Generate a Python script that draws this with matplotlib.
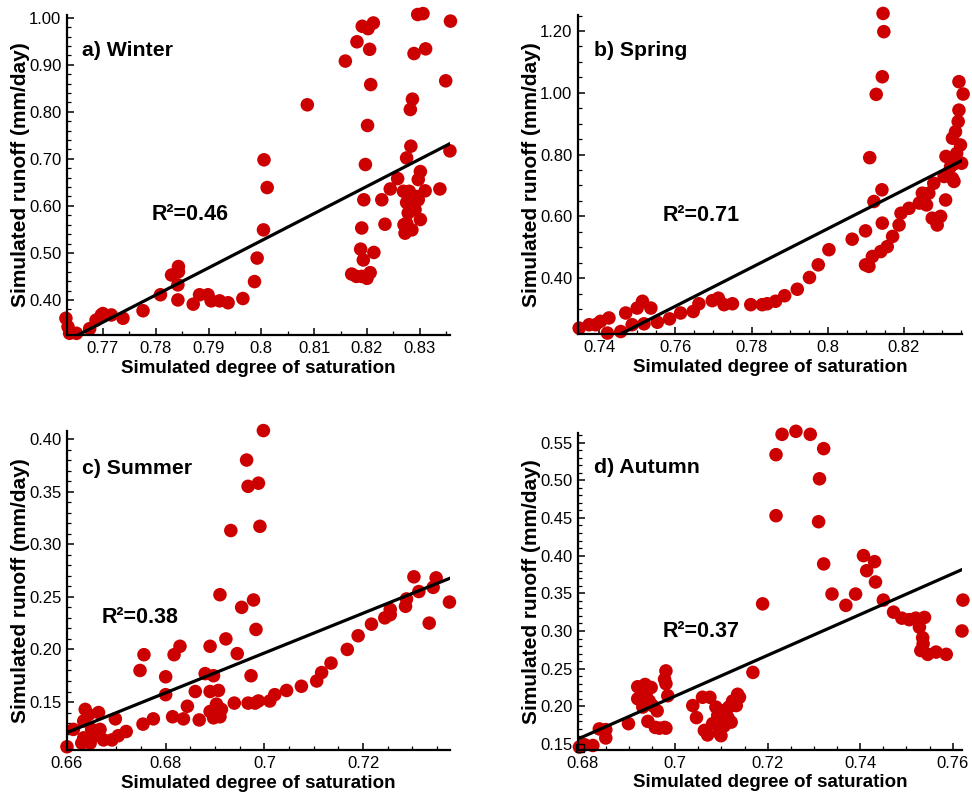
import numpy as np
import matplotlib
matplotlib.use('Agg')
import matplotlib.pyplot as plt
from matplotlib.ticker import MultipleLocator, FuncFormatter, FormatStrFormatter

plt.rcParams['font.family'] = ['Liberation Sans', 'DejaVu Sans']

# a) Winter
winter_x = [0.7630, 0.7634, 0.7637, 0.7650, 0.7675, 0.7687, 0.7697, 0.7700, 0.7716, 0.7738,
            0.7776, 0.7809, 0.7830, 0.7843, 0.7843, 0.7842, 0.7842, 0.7871, 0.7883, 0.7899,
            0.7905, 0.7921, 0.7937, 0.7965, 0.7987, 0.7992, 0.8004, 0.8005, 0.8011, 0.8087,
            0.8159, 0.8181, 0.8191, 0.8202, 0.8212, 0.8205, 0.8207, 0.8201, 0.8197, 0.8194,
            0.8190, 0.8188, 0.8171, 0.8180, 0.8190, 0.8200, 0.8193, 0.8206, 0.8213, 0.8228,
            0.8234, 0.8244, 0.8258, 0.8269, 0.8272, 0.8275, 0.8283, 0.8282, 0.8286, 0.8280,
            0.8275, 0.8278, 0.8275, 0.8285, 0.8291, 0.8297, 0.8301, 0.8297, 0.8294, 0.8301,
            0.8310, 0.8289, 0.8296, 0.8306, 0.8311, 0.8338, 0.8349, 0.8358, 0.8357, 0.8270]
winter_y = [0.361, 0.343, 0.329, 0.329, 0.339, 0.357, 0.368, 0.371, 0.368, 0.361,
            0.377, 0.411, 0.453, 0.471, 0.460, 0.432, 0.400, 0.391, 0.411, 0.411,
            0.398, 0.398, 0.394, 0.403, 0.439, 0.489, 0.549, 0.698, 0.639, 0.815,
            0.908, 0.949, 0.982, 0.977, 0.989, 0.933, 0.858, 0.771, 0.688, 0.613,
            0.553, 0.508, 0.455, 0.450, 0.450, 0.446, 0.485, 0.458, 0.501, 0.613,
            0.561, 0.636, 0.658, 0.631, 0.542, 0.702, 0.727, 0.805, 0.827, 0.631,
            0.607, 0.585, 0.563, 0.549, 0.592, 0.656, 0.673, 0.613, 0.620, 0.571,
            0.632, 0.924, 1.007, 1.009, 0.934, 0.636, 0.866, 0.993, 0.717, 0.560]

# b) Spring
spring_x = [0.7348, 0.7374, 0.7391, 0.7404, 0.7426, 0.7422, 0.7457, 0.7470, 0.7487, 0.7500,
            0.7514, 0.7536, 0.7518, 0.7553, 0.7585, 0.7614, 0.7647, 0.7662, 0.7697, 0.7713,
            0.7728, 0.7750, 0.7798, 0.7828, 0.7841, 0.7863, 0.7887, 0.7920, 0.7952, 0.7975,
            0.8003, 0.8064, 0.8099, 0.8099, 0.8108, 0.8117, 0.8139, 0.8156, 0.8170, 0.8187,
            0.8192, 0.8213, 0.8240, 0.8248, 0.8259, 0.8265, 0.8278, 0.8274, 0.8287, 0.8296,
            0.8305, 0.8309, 0.8310, 0.8322, 0.8327, 0.8331, 0.8335, 0.8327, 0.8335, 0.8342,
            0.8344, 0.8348, 0.8351, 0.8344, 0.8355, 0.8338, 0.8110, 0.8121, 0.8142, 0.8143,
            0.8127, 0.8143, 0.8147, 0.8145]
spring_y = [0.238, 0.249, 0.249, 0.260, 0.271, 0.222, 0.227, 0.287, 0.249, 0.303,
            0.325, 0.303, 0.252, 0.257, 0.268, 0.287, 0.292, 0.317, 0.327, 0.335,
            0.314, 0.317, 0.314, 0.314, 0.317, 0.325, 0.343, 0.364, 0.402, 0.443,
            0.492, 0.526, 0.553, 0.443, 0.438, 0.470, 0.486, 0.502, 0.535, 0.572,
            0.610, 0.626, 0.643, 0.675, 0.637, 0.675, 0.707, 0.594, 0.572, 0.600,
            0.729, 0.653, 0.794, 0.761, 0.723, 0.713, 0.772, 0.853, 0.874, 0.907,
            0.944, 0.831, 0.772, 1.036, 0.996, 0.804, 0.790, 0.648, 0.686, 0.578,
            0.995, 1.052, 1.198, 1.257]

# c) Summer
summer_x = [0.6600, 0.6613, 0.6630, 0.6637, 0.6634, 0.6644, 0.6634, 0.6647, 0.6650, 0.6657,
            0.6664, 0.6667, 0.6674, 0.6698, 0.6691, 0.6704, 0.6720, 0.6748, 0.6756, 0.6754,
            0.6775, 0.6800, 0.6800, 0.6814, 0.6817, 0.6829, 0.6836, 0.6844, 0.6860, 0.6868,
            0.6880, 0.6890, 0.6890, 0.6897, 0.6890, 0.6897, 0.6903, 0.6907, 0.6910, 0.6910,
            0.6913, 0.6922, 0.6932, 0.6939, 0.6945, 0.6954, 0.6964, 0.6967, 0.6967, 0.6973,
            0.6978, 0.6981, 0.6983, 0.6988, 0.6991, 0.6998, 0.6988, 0.7011, 0.7021, 0.7045,
            0.7075, 0.7106, 0.7116, 0.7135, 0.7168, 0.7190, 0.7217, 0.7244, 0.7255, 0.7255,
            0.7286, 0.7288, 0.7303, 0.7313, 0.7334, 0.7342, 0.7348, 0.7375]
summer_y = [0.1075, 0.124, 0.111, 0.143, 0.132, 0.138, 0.116, 0.111, 0.124, 0.118,
            0.140, 0.124, 0.114, 0.134, 0.114, 0.118, 0.122, 0.180, 0.195, 0.129,
            0.134, 0.174, 0.157, 0.136, 0.195, 0.203, 0.134, 0.146, 0.160, 0.133,
            0.177, 0.203, 0.160, 0.175, 0.141, 0.135, 0.148, 0.161, 0.252, 0.136,
            0.143, 0.210, 0.313, 0.149, 0.196, 0.240, 0.380, 0.355, 0.149, 0.175,
            0.247, 0.149, 0.219, 0.358, 0.317, 0.408, 0.151, 0.151, 0.157, 0.161,
            0.165, 0.170, 0.178, 0.187, 0.200, 0.213, 0.224, 0.230, 0.233, 0.238,
            0.241, 0.248, 0.269, 0.255, 0.225, 0.259, 0.268, 0.245]

# d) Autumn
autumn_x = [0.6793, 0.6804, 0.6822, 0.6836, 0.6850, 0.6850, 0.6899, 0.6919, 0.6919, 0.6930,
            0.6935, 0.6937, 0.6941, 0.6944, 0.6948, 0.6951, 0.6957, 0.6961, 0.6966, 0.6977,
            0.6980, 0.6980, 0.6977, 0.6980, 0.6984, 0.7038, 0.7046, 0.7059, 0.7063, 0.7070,
            0.7075, 0.7081, 0.7088, 0.7092, 0.7095, 0.7099, 0.7103, 0.7106, 0.7114, 0.7116,
            0.7121, 0.7124, 0.7132, 0.7135, 0.7139, 0.7168, 0.7189, 0.7218, 0.7218, 0.7231,
            0.7261, 0.7292, 0.7321, 0.7312, 0.7310, 0.7321, 0.7339, 0.7369, 0.7390, 0.7407,
            0.7414, 0.7431, 0.7433, 0.7450, 0.7472, 0.7490, 0.7506, 0.7520, 0.7528, 0.7539,
            0.7535, 0.7536, 0.7531, 0.7546, 0.7564, 0.7586, 0.7622, 0.7620]
autumn_y = [0.146, 0.149, 0.148, 0.170, 0.169, 0.158, 0.177, 0.226, 0.210, 0.199,
            0.229, 0.216, 0.180, 0.207, 0.225, 0.201, 0.172, 0.194, 0.171, 0.172,
            0.171, 0.247, 0.236, 0.230, 0.214, 0.201, 0.185, 0.212, 0.168, 0.162,
            0.212, 0.177, 0.199, 0.188, 0.165, 0.161, 0.194, 0.174, 0.185, 0.199,
            0.179, 0.207, 0.201, 0.216, 0.212, 0.245, 0.336, 0.453, 0.534, 0.561,
            0.565, 0.561, 0.542, 0.502, 0.445, 0.389, 0.349, 0.334, 0.349, 0.400,
            0.380, 0.392, 0.365, 0.341, 0.325, 0.317, 0.315, 0.317, 0.305, 0.318,
            0.291, 0.283, 0.274, 0.269, 0.272, 0.269, 0.341, 0.300]

# regression lines  y = slope*x + intercept
slopes = [5.78, 6.28, 1.89, 2.708]
intercepts = [-4.098, -4.464, -1.1264, -1.682]
r2_values = [0.46, 0.71, 0.38, 0.37]

titles = ['a) Winter', 'b) Spring', 'c) Summer', 'd) Autumn']
xs = [winter_x, spring_x, summer_x, autumn_x]
ys = [winter_y, spring_y, summer_y, autumn_y]

xlims = [(0.7632, 0.8357), (0.7345, 0.8352), (0.6600, 0.7376), (0.6790, 0.7620)]
ylims = [(0.3255, 1.006), (0.219, 1.252), (0.1044, 0.4076), (0.142, 0.563)]
x_major = [0.01, 0.02, 0.02, 0.02]
x_minor = [0.005, 0.005, 0.005, 0.005]
y_major = [0.1, 0.2, 0.05, 0.05]
y_minor = [0.02, 0.05, 0.01, 0.01]

positions = [[0.0689, 0.5776, 0.394, 0.4035],
             [0.5947, 0.5788, 0.395, 0.4023],
             [0.0689, 0.0542, 0.394, 0.4023],
             [0.5947, 0.0542, 0.395, 0.400]]
title_pos = [(0.04, 0.89), (0.042, 0.89), (0.04, 0.884), (0.042, 0.89)]
r2_pos = [(0.222, 0.375), (0.221, 0.373), (0.091, 0.414), (0.221, 0.375)]

red = '#cc0000'

fig = plt.figure(figsize=(9.72, 7.93), dpi=100)

for i in range(4):
    ax = fig.add_axes(positions[i])
    ax.scatter(xs[i], ys[i], s=95, color=red, edgecolors='none', zorder=2, clip_on=False)

    lx = np.array([xlims[i][0], max(xs[i])])
    ax.plot(lx, slopes[i] * lx + intercepts[i], color='black', lw=2.3, zorder=3)

    ax.set_xlim(xlims[i])
    ax.set_ylim(ylims[i])

    for s in ['top', 'right']:
        ax.spines[s].set_visible(False)
    for s in ['left', 'bottom']:
        ax.spines[s].set_linewidth(1.6)

    ax.xaxis.set_major_locator(MultipleLocator(x_major[i]))
    ax.xaxis.set_minor_locator(MultipleLocator(x_minor[i]))
    ax.yaxis.set_major_locator(MultipleLocator(y_major[i]))
    ax.yaxis.set_minor_locator(MultipleLocator(y_minor[i]))
    ax.xaxis.set_major_formatter(FuncFormatter(lambda v, p: ('%.2f' % v).rstrip('0')))
    ax.yaxis.set_major_formatter(FormatStrFormatter('%.2f'))

    ax.tick_params(which='both', direction='in', top=False, right=False, labelsize=12)
    ax.tick_params(which='major', length=5, width=1.1, pad=4)
    ax.tick_params(which='minor', length=3, width=0.9)

    ax.set_xlabel('Simulated degree of saturation', fontsize=13.5, fontweight='bold')
    ax.set_ylabel('Simulated runoff (mm/day)', fontsize=15, fontweight='bold')
    ax.xaxis.set_label_coords(0.5, -0.077)
    ax.yaxis.set_label_coords(-0.097, 0.5)

    ax.text(title_pos[i][0], title_pos[i][1], titles[i], transform=ax.transAxes,
            fontsize=15.3, fontweight='bold', va='center', ha='left')
    ax.text(r2_pos[i][0], r2_pos[i][1], 'R\u00b2=%.2f' % r2_values[i], transform=ax.transAxes,
            fontsize=15.5, fontweight='bold', va='center', ha='left')

    if i == 3:
        # small square marker at the origin corner
        ax.plot([xlims[i][0] + 0.0005], [ylims[i][0] + 0.003], marker='s', ms=6,
                mfc='none', mec='black', mew=1.0, zorder=4, clip_on=False)

fig.savefig('out.png', dpi=100)
